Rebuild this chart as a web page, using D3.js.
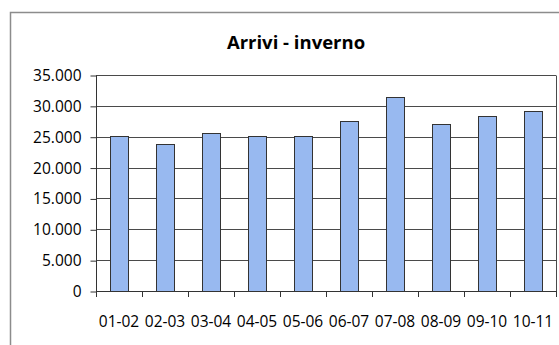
<!DOCTYPE html>
<html><head><meta charset="utf-8">
<script src="https://cdn.jsdelivr.net/npm/d3@7"></script>
<style>
html,body{margin:0;padding:0;background:#fff;}
svg{display:block;}
text{font-family:"Open Sans",sans-serif;}
</style></head>
<body>
<script>
const categories = ["01-02","02-03","03-04","04-05","05-06","06-07","07-08","08-09","09-10","10-11"];
const values = [25150, 23900, 25650, 25050, 25050, 27550, 31500, 27100, 28400, 29200];
const yTicks = [0,5000,10000,15000,20000,25000,30000,35000];
const title = "Arrivi - inverno";

const W = 559, H = 345;
const m = {left:96, right:556, top:75, bottom:291};
const svg = d3.select("body").append("svg").attr("width",W).attr("height",H);

svg.append("rect").attr("x",10.5).attr("y",12.5).attr("width",700).attr("height",500)
  .attr("fill","none").attr("stroke","#8c8c8c").attr("stroke-width",1.5);

svg.append("text").attr("x",296).attr("y",48.5).attr("text-anchor","middle")
  .attr("font-size",18.5).attr("font-weight","bold").attr("fill","#000").text(title);

const x = d3.scaleBand().domain(categories).range([m.left,m.right]).paddingInner(0.6).paddingOuter(0.3);
const y = d3.scaleLinear().domain([0,35000]).range([m.bottom,m.top]);

// gridlines
svg.append("g").selectAll("line").data(yTicks.slice(1)).join("line")
  .attr("x1",m.left).attr("x2",m.right)
  .attr("y1",d=>Math.round(y(d))+0.5).attr("y2",d=>Math.round(y(d))+0.5)
  .attr("stroke","#4a4a4a").attr("stroke-width",1);
// right border
svg.append("line").attr("x1",m.right+0.5).attr("x2",m.right+0.5).attr("y1",m.top+0.5).attr("y2",m.bottom)
  .attr("stroke","#4a4a4a");

// bars
svg.append("g").selectAll("rect").data(values).join("rect")
  .attr("x",(d,i)=>Math.round(x(categories[i]))+0.5)
  .attr("y",d=>Math.round(y(d))+0.5)
  .attr("width",Math.round(x.bandwidth()))
  .attr("height",d=>m.bottom-Math.round(y(d)))
  .attr("fill","#98b9f0").attr("stroke","#333").attr("stroke-width",1);

const fmt = d3.formatLocale({decimal:",",thousands:".",grouping:[3],currency:["",""]}).format(",");
// y axis
const ya = svg.append("g").attr("transform",`translate(${m.left+0.5},0.5)`)
  .call(d3.axisLeft(y).tickValues(yTicks).tickFormat(fmt).tickSize(6).tickPadding(9));
ya.select(".domain").attr("stroke","#333").attr("d",`M0,${m.top}V${m.bottom}`);
ya.selectAll(".tick line").attr("stroke","#333");
ya.selectAll("text").attr("font-size",15.5).attr("fill","#000").attr("font-family","Open Sans");

// x axis
const bounds = d3.range(categories.length+1).map(i=>m.left+i*(m.right-m.left)/categories.length);
const xa = svg.append("g");
xa.append("line").attr("x1",m.left).attr("x2",m.right+1).attr("y1",m.bottom+0.5).attr("y2",m.bottom+0.5).attr("stroke","#333");
xa.selectAll("line.t").data(bounds).join("line").attr("class","t")
  .attr("x1",d=>Math.round(d)+0.5).attr("x2",d=>Math.round(d)+0.5)
  .attr("y1",m.bottom).attr("y2",m.bottom+6).attr("stroke","#333");
xa.selectAll("text").data(categories).join("text")
  .attr("x",d=>x(d)+x.bandwidth()/2).attr("y",326.5)
  .attr("text-anchor","middle").attr("font-size",15.5).attr("fill","#000").text(d=>d);
</script>
</body></html>
